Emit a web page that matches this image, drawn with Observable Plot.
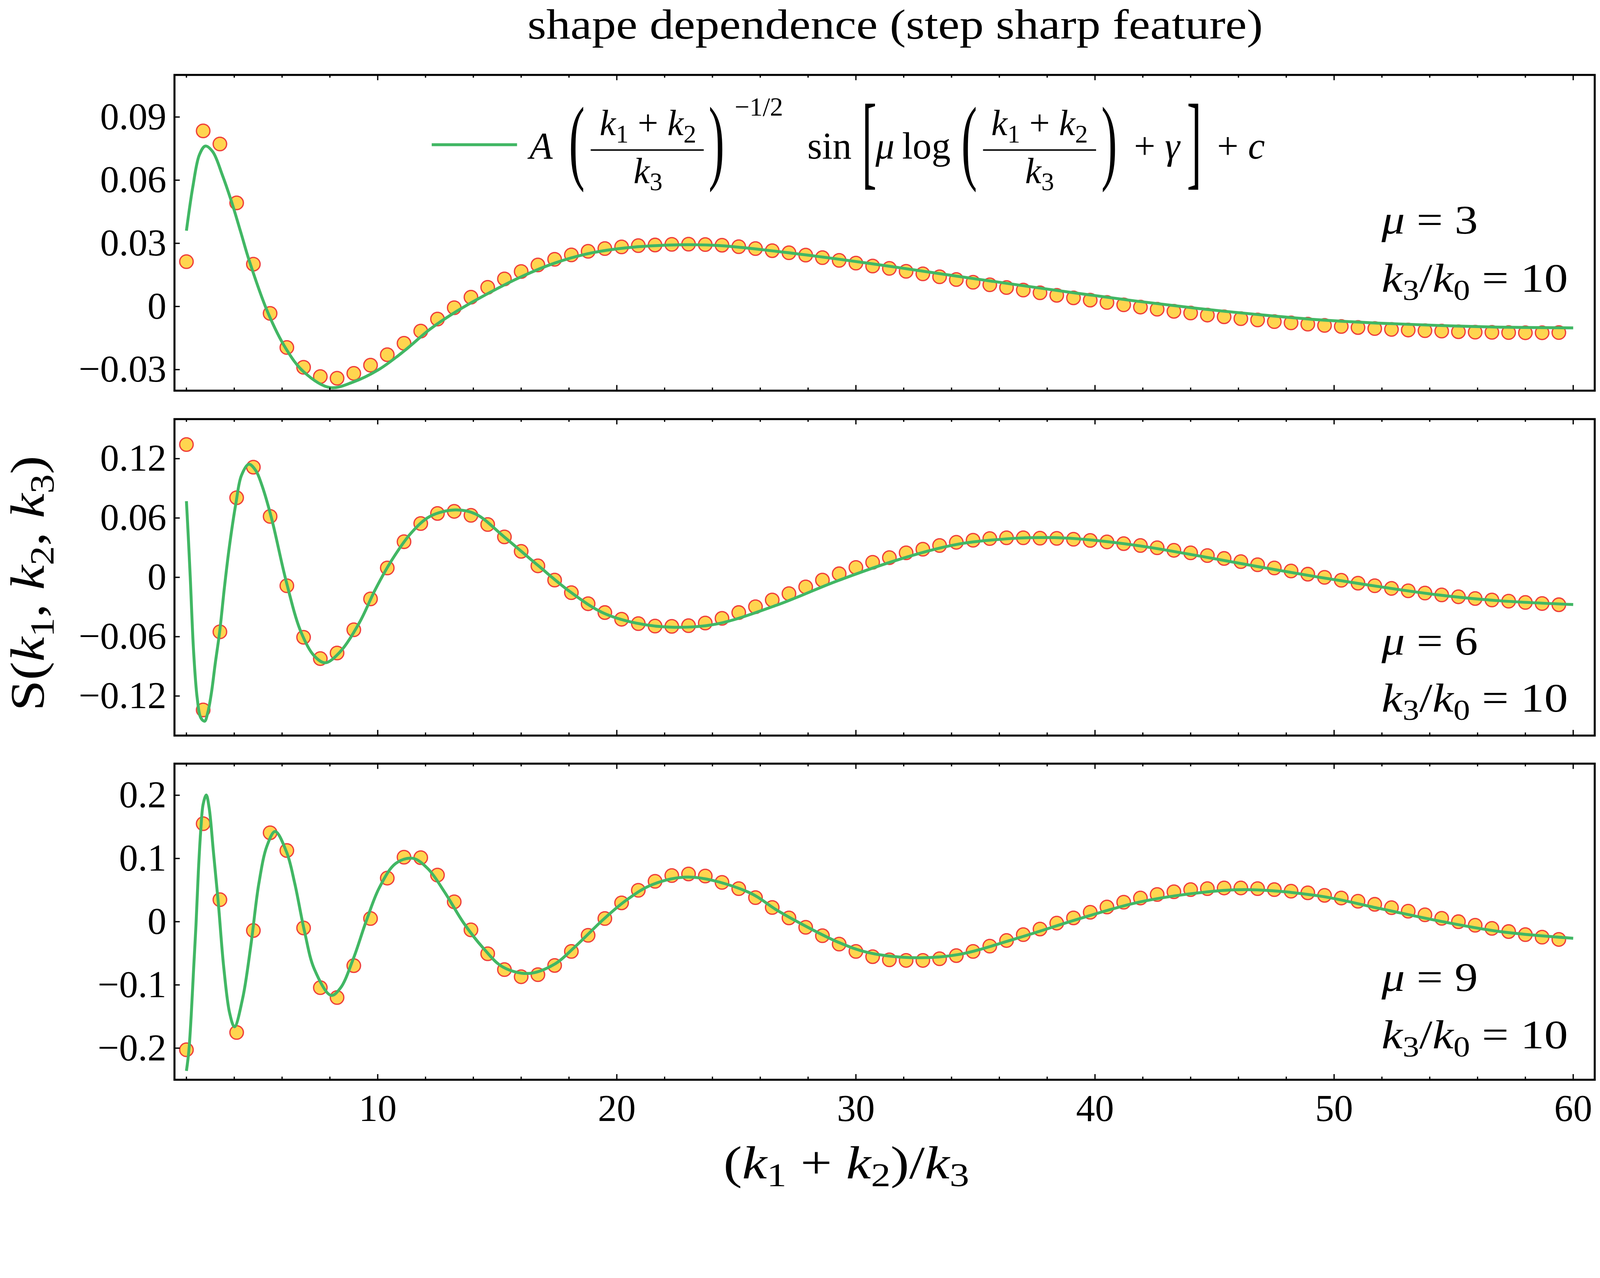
<!DOCTYPE html>
<html>
<head>
<meta charset="utf-8">
<script src="https://cdn.jsdelivr.net/npm/d3@7"></script>
<script src="https://cdn.jsdelivr.net/npm/@observablehq/plot@0.6"></script>
<style>
html, body { margin: 0; padding: 0; background: #fff; overflow: hidden; }
#fig { position: relative; width: 4388px; height: 3272px; background: #fff; overflow: visible; font-family: "Liberation Serif", serif; transform-origin: 0 0; }
#fig > svg { position: absolute; left: 0; overflow: visible; }
</style>
</head>
<body>
<div id="fig"></div>
<script>
// ---------------- data ----------------
const xPoints = [2, 2.7, 3.4, 4.1, 4.8, 5.5, 6.2, 6.9, 7.6, 8.3, 9, 9.7, 10.4, 11.1, 11.8, 12.5, 13.2, 13.9, 14.6, 15.3,
  16, 16.7, 17.4, 18.1, 18.8, 19.5, 20.2, 20.9, 21.6, 22.3, 23, 23.7, 24.4, 25.1, 25.8, 26.5, 27.2, 27.9, 28.6, 29.3,
  30, 30.7, 31.4, 32.1, 32.8, 33.5, 34.2, 34.9, 35.6, 36.3, 37, 37.7, 38.4, 39.1, 39.8, 40.5, 41.2, 41.9, 42.6, 43.3,
  44, 44.7, 45.4, 46.1, 46.8, 47.5, 48.2, 48.9, 49.6, 50.3, 51, 51.7, 52.4, 53.1, 53.8, 54.5, 55.2, 55.9, 56.6, 57.3,
  58, 58.7, 59.4];

const pointsMu3 = [0.0213, 0.0834, 0.0772, 0.0492, 0.0201, -0.0033, -0.0195, -0.0289, -0.0333, -0.0341,
  -0.0318, -0.0279, -0.0229, -0.0175, -0.0117, -0.0060, -0.0006, 0.0044, 0.0091, 0.0131,
  0.0166, 0.0197, 0.0224, 0.0245, 0.0262, 0.0275, 0.0283, 0.0289, 0.0292, 0.0295,
  0.0296, 0.0294, 0.0291, 0.0284, 0.0275, 0.0265, 0.0255, 0.0244, 0.0232, 0.0219,
  0.0206, 0.0192, 0.0181, 0.0167, 0.0155, 0.0141, 0.0128, 0.0115, 0.0103, 0.0090,
  0.0078, 0.0065, 0.0053, 0.0041, 0.0030, 0.0019, 0.0008, -0.0003, -0.0013, -0.0023,
  -0.0031, -0.0041, -0.0049, -0.0058, -0.0064, -0.0072, -0.0078, -0.0084, -0.0090, -0.0095,
  -0.0100, -0.0105, -0.0109, -0.0112, -0.0115, -0.0117, -0.0120, -0.0122, -0.0123, -0.0124,
  -0.0125, -0.0125, -0.0124];

const pointsMu6 = [0.1343, -0.1341, -0.0551, 0.0805, 0.1114, 0.0616, -0.0085, -0.0606, -0.0822, -0.0765,
  -0.0530, -0.0218, 0.0095, 0.0360, 0.0544, 0.0646, 0.0667, 0.0627, 0.0534, 0.0409,
  0.0263, 0.0116, -0.0028, -0.0155, -0.0267, -0.0356, -0.0424, -0.0468, -0.0493, -0.0496,
  -0.0489, -0.0462, -0.0415, -0.0356, -0.0297, -0.0229, -0.0165, -0.0097, -0.0028, 0.0036,
  0.0100, 0.0152, 0.0199, 0.0248, 0.0284, 0.0322, 0.0354, 0.0375, 0.0392, 0.0400,
  0.0400, 0.0396, 0.0394, 0.0385, 0.0373, 0.0358, 0.0341, 0.0322, 0.0299, 0.0273,
  0.0248, 0.0220, 0.0191, 0.0159, 0.0127, 0.0095, 0.0064, 0.0032, 0.0000, -0.0030,
  -0.0059, -0.0085, -0.0112, -0.0136, -0.0159, -0.0178, -0.0197, -0.0214, -0.0229, -0.0241,
  -0.0254, -0.0265, -0.0277];

const pointsMu9 = [-0.2026, 0.1550, 0.0348, -0.1752, -0.0139, 0.1407, 0.1126, -0.0099, -0.1043, -0.1199,
  -0.0695, 0.0050, 0.0689, 0.1020, 0.1013, 0.0738, 0.0315, -0.0129, -0.0507, -0.0758,
  -0.0871, -0.0838, -0.0692, -0.0470, -0.0215, 0.0050, 0.0298, 0.0497, 0.0639, 0.0730,
  0.0755, 0.0722, 0.0622, 0.0523, 0.0381, 0.0225, 0.0060, -0.0089, -0.0222, -0.0354,
  -0.0470, -0.0553, -0.0603, -0.0613, -0.0613, -0.0586, -0.0536, -0.0470, -0.0387, -0.0298,
  -0.0205, -0.0116, -0.0023, 0.0060, 0.0149, 0.0232, 0.0308, 0.0374, 0.0430, 0.0473,
  0.0507, 0.0523, 0.0533, 0.0533, 0.0523, 0.0507, 0.0483, 0.0457, 0.0417, 0.0374,
  0.0324, 0.0275, 0.0222, 0.0166, 0.0109, 0.0053, 0.0000, -0.0056, -0.0106, -0.0156,
  -0.0205, -0.0245, -0.0281];

// fitted curve
const fitXMu3 = [2, 2.27, 2.54, 2.79, 3.1, 3.5, 3.88, 4.28, 4.62, 5.41, 6.16, 6.9, 8.0, 8.95, 10.04, 11.1, 12.2, 13.3, 14.7, 16.0,
  17.4, 18.76, 20.1, 22.3, 24.17, 26.68, 29.2, 31.71, 34.22, 36.73, 39.25, 41.76, 44.27, 46.78, 49.3, 51.8, 54.3, 56.8, 60];
const fitYMu3 = [0.036, 0.057, 0.072, 0.0762, 0.0735, 0.0625, 0.050, 0.035, 0.022, -0.003, -0.020, -0.031, -0.0385, -0.036, -0.030, -0.0212, -0.0107, -0.0023, 0.0067, 0.0141,
  0.0206, 0.025, 0.0275, 0.0292, 0.0290, 0.0262, 0.0226, 0.0186, 0.0144, 0.0103, 0.0063, 0.0025, -0.0009, -0.0038, -0.0063, -0.0079, -0.0090, -0.0098, -0.0102];

const fitXMu6 = [2, 2.08, 2.16, 2.3, 2.45, 2.6, 2.76, 2.9, 3.05, 3.2, 3.39, 3.59, 3.79, 4.07, 4.3, 4.61, 4.9, 5.15, 5.56, 6.17,
  6.78, 7.33, 7.8, 8.41, 9.23, 9.9, 10.59, 11.4, 12.2, 13.24, 14.1, 15.3, 16.7, 18.06, 19.4, 20.8, 22.41, 24.17, 26.68, 29.2,
  31.71, 34.22, 36.73, 37.99, 39.25, 41.76, 44.27, 46.78, 49.3, 51.8, 54.3, 56.8, 60];
const fitYMu6 = [0.077, 0.04, 0.0, -0.075, -0.122, -0.142, -0.1455, -0.136, -0.116, -0.088, -0.055, -0.010, 0.030, 0.075, 0.103, 0.1144, 0.108, 0.0936, 0.0597, -0.0038,
  -0.0546, -0.079, -0.0864, -0.0758, -0.046, -0.0123, 0.0174, 0.0449, 0.0618, 0.0682, 0.064, 0.0407, 0.0121, -0.0148, -0.0356, -0.0462, -0.0505, -0.0472, -0.0282, -0.0038,
  0.0174, 0.0333, 0.0396, 0.0402, 0.0390, 0.0322, 0.0220, 0.0110, 0.0004, -0.0091, -0.0176, -0.0235, -0.0275];

const fitXMu9 = [2, 2.1, 2.2, 2.3, 2.4, 2.5, 2.6, 2.7, 2.83, 2.95, 3.13, 3.33, 3.56, 3.81, 4.01, 4.35, 4.69, 5.03, 5.37, 5.71,
  6.19, 6.53, 6.94, 7.35, 8.05, 8.44, 8.98, 9.52, 10.07, 10.75, 11.46, 12.1, 12.79, 13.6, 14.42, 15.24, 16.33, 17.41, 18.23, 19.46,
  20.4, 21.5, 23.08, 25.47, 26.73, 27.99, 29.24, 30.5, 32.52, 34.28, 36.8, 39.31, 41.83, 44.35, 46.36, 49.38, 51.9, 54.41, 56.93, 60];
const fitYMu9 = [-0.236, -0.205, -0.148, -0.075, -0.005, 0.08, 0.145, 0.186, 0.2003, 0.18, 0.11, 0.031, -0.072, -0.145, -0.1662, -0.1215, -0.0387, 0.0606, 0.120, 0.1427,
  0.110, 0.0606, -0.0156, -0.075, -0.1165, -0.105, -0.0586, 0.001, 0.054, 0.092, 0.1003, 0.0838, 0.0473, -0.0023, -0.042, -0.0718, -0.0818, -0.0669, -0.0404, 0.0043,
  0.0341, 0.0589, 0.0705, 0.0473, 0.0175, -0.0089, -0.0321, -0.0487, -0.0570, -0.0520, -0.0255, 0.0043, 0.0308, 0.0457, 0.0507, 0.0407, 0.0209, 0.0010, -0.0156, -0.0262];

const xMajorTicks = [10, 20, 30, 40, 50, 60];
const xMinorTicks = [2, 4, 6, 8, 12, 14, 16, 18, 22, 24, 26, 28, 32, 34, 36, 38, 42, 44, 46, 48, 52, 54, 56, 58];
const xTickLabels = ["10", "20", "30", "40", "50", "60"];

const yTicksMu3 = [-0.03, 0, 0.03, 0.06, 0.09];
const yTickLabelsMu3 = ["\u22120.03", "0", "0.03", "0.06", "0.09"];
const yTicksMu6 = [-0.12, -0.06, 0, 0.06, 0.12];
const yTickLabelsMu6 = ["\u22120.12", "\u22120.06", "0", "0.06", "0.12"];
const yTicksMu9 = [-0.2, -0.1, 0, 0.1, 0.2];
const yTickLabelsMu9 = ["\u22120.2", "\u22120.1", "0", "0.1", "0.2"];

const muValues = ["3", "6", "9"];
const ratioValue = "10";

// ---------------- styling ----------------
const FONT = "Liberation Serif";
const DOT_FILL = "#ffd54f";
const DOT_STROKE = "#ef3e3a";
const FIT_COLOR = "#41b764";
const W = 4388, H = 3272;
const ML = 478, MR = 15;
const fig = document.getElementById("fig");

// fit the figure to the viewport, whatever its size
function fitToViewport() {
  const s = Math.min(window.innerWidth / W, window.innerHeight / H);
  fig.style.transform = `scale(${s})`;
}
fitToViewport();
window.addEventListener("resize", fitToViewport);

function panel({pts, fitX, fitY, yDomain, yTicks, yLabels, frameTop, frameH, showX}) {
  const mt = 12, mb = showX ? 150 : 12;
  const frameW = W - ML - MR;
  const points = xPoints.map((x, i) => ({x, y: pts[i]}));
  const fit = fitX.map((x, i) => ({x, y: fitY[i]}));
  const fmt = d => yLabels[yTicks.indexOf(d)];
  const tk = {stroke: "black", strokeWidth: 3.5};
  const marks = [
    Plot.dot(points, {x: "x", y: "y", r: 18.5, fill: DOT_FILL, stroke: DOT_STROKE, strokeWidth: 3.5}),
    Plot.line(fit, {x: "x", y: "y", stroke: FIT_COLOR, strokeWidth: 8, curve: "catmull-rom", strokeLinecap: "butt"}),
    // inward ticks: bottom, top, left
    Plot.tickX(xMajorTicks, {...tk, x: d => d, insetTop: frameH - 15}),
    Plot.tickX(xMinorTicks, {...tk, x: d => d, insetTop: frameH - 8}),
    Plot.tickX(xMajorTicks, {...tk, x: d => d, insetBottom: frameH - 15}),
    Plot.tickX(xMinorTicks, {...tk, x: d => d, insetBottom: frameH - 8}),
    Plot.tickY(yTicks, {...tk, y: d => d, insetRight: frameW - 15}),
    // tick labels
    Plot.axisY(yTicks, {anchor: "left", tickSize: 0, tickPadding: 22, tickFormat: fmt, fontSize: 104, label: null})
  ];
  if (showX) {
    marks.push(Plot.axisX(xMajorTicks, {anchor: "bottom", tickSize: 0, tickPadding: 39,
      tickFormat: d => xTickLabels[xMajorTicks.indexOf(d)], fontSize: 104, label: null}));
  }
  marks.push(Plot.frame({stroke: "black", strokeWidth: 5.5}));
  const svg = Plot.plot({
    width: W, height: frameH + mt + mb,
    marginLeft: ML, marginRight: MR, marginTop: mt, marginBottom: mb,
    x: {domain: [1.5, 60.9], axis: null},
    y: {domain: yDomain, axis: null},
    style: {fontFamily: FONT, fontSize: "104px", background: "transparent", overflow: "visible", color: "black", maxWidth: "none"},
    marks
  });
  svg.style.top = (frameTop - mt) + "px";
  svg.style.left = "0px";
  fig.appendChild(svg);
}

panel({pts: pointsMu3, fitX: fitXMu3, fitY: fitYMu3, yDomain: [-0.04, 0.11], yTicks: yTicksMu3, yLabels: yTickLabelsMu3, frameTop: 205, frameH: 866, showX: false});
panel({pts: pointsMu6, fitX: fitXMu6, fitY: fitYMu6, yDomain: [-0.16, 0.16], yTicks: yTicksMu6, yLabels: yTickLabelsMu6, frameTop: 1149, frameH: 868, showX: false});
panel({pts: pointsMu9, fitX: fitXMu9, fitY: fitYMu9, yDomain: [-0.25, 0.25], yTicks: yTicksMu9, yLabels: yTickLabelsMu9, frameTop: 2094, frameH: 867, showX: true});

// ---------------- text overlay ----------------
const ov = d3.select(fig).append("svg")
  .attr("width", W).attr("height", H)
  .style("top", "0px").style("left", "0px").style("pointer-events", "none").style("overflow", "visible")
  .attr("font-family", FONT).attr("fill", "black");

// parts: [text, style] where style contains i (italic), sub, sup
function mathText(g, x, y, parts, {size = 104, anchor = "start", textLength = null, transform = null, subShift = 0.2} = {}) {
  const t = g.append("text").attr("x", x).attr("y", y).attr("font-size", size).attr("text-anchor", anchor);
  if (transform) t.attr("transform", transform);
  if (textLength) t.attr("textLength", textLength).attr("lengthAdjust", "spacingAndGlyphs");
  let shift = 0;
  parts.forEach(([s, st = ""]) => {
    const ts = t.append("tspan").text(s);
    if (st.includes("i")) ts.attr("font-style", "italic");
    let target = 0, fs = size;
    if (st.includes("sub")) { target = subShift * size; fs = 0.7 * size; }
    if (st.includes("sup")) { target = -0.42 * size; fs = 0.7 * size; }
    ts.attr("font-size", fs);
    if (target !== shift) { ts.attr("dy", target - shift); shift = target; }
  });
  return t;
}
const NB = "\u00A0";

// title
ov.append("text").attr("x", 2455).attr("y", 106).attr("text-anchor", "middle").attr("font-size", 116)
  .attr("textLength", 2017).attr("lengthAdjust", "spacingAndGlyphs")
  .text("shape dependence (step sharp feature)");

// y label
mathText(ov, 0, 0, [["S"], ["("], ["k", "i"], ["1", "sub"], [","], [NB + "k", "i"], ["2", "sub"], [","], [NB + "k", "i"], ["3", "sub"], [")"]],
  {size: 132, anchor: "middle", textLength: 700, transform: "translate(120,1600) rotate(-90)"});

// x label
mathText(ov, 2321, 3232, [["("], ["k", "i"], ["1", "sub"], [NB + "+" + NB], ["k", "i"], ["2", "sub"], [")/"], ["k", "i"], ["3", "sub"]],
  {size: 128, anchor: "middle", textLength: 674, subShift: 0.17});

// panel annotations
const annot = [[641, 800], [1795, 1952], [2718, 2875]];
annot.forEach(([yMu, yK], i) => {
  mathText(ov, 3789, yMu, [["\u03BC", "i"], [NB + "=" + NB + muValues[i]]], {size: 112, textLength: 264});
  mathText(ov, 3789, yK, [["k", "i"], ["3", "sub"], ["/"], ["k", "i"], ["0", "sub"], [NB + "=" + NB + ratioValue]], {size: 112, textLength: 511});
});

// legend
const lg = ov.append("g");
lg.append("line").attr("x1", 1184).attr("x2", 1418).attr("y1", 397).attr("y2", 397)
  .attr("stroke", FIT_COLOR).attr("stroke-width", 8);
mathText(lg, 1452, 435, [["A", "i"]], {size: 104});
function bigDelim(ch, cx, scaleX, scaleY, off) {
  lg.append("text").attr("text-anchor", "middle").attr("font-size", 100).attr("y", off)
    .attr("transform", `translate(${cx},411) scale(${scaleX},${scaleY})`).text(ch);
}
function frac(cx, x1, x2, num, den) {
  mathText(lg, cx, 371, num, {size: 100, anchor: "middle"});
  lg.append("line").attr("x1", x1).attr("x2", x2).attr("y1", 411.5).attr("y2", 411.5).attr("stroke", "black").attr("stroke-width", 4);
  mathText(lg, cx, 502, den, {size: 100, anchor: "middle"});
}
const numParts = [["k", "i"], ["1", "sub"], [NB + "+" + NB], ["k", "i"], ["2", "sub"]];
const denParts = [["k", "i"], ["3", "sub"]];
bigDelim("(", 1582, 1.3, 2.6, 23.5);
frac(1777, 1620, 1930, numParts, denParts);
bigDelim(")", 1965, 1.3, 2.6, 23.5);
mathText(lg, 2015, 317, [["\u22121/2"]], {size: 72});
mathText(lg, 2214, 435, [["sin"]], {size: 104});
bigDelim("[", 2384, 1.2, 2.85, 25);
mathText(lg, 2401, 435, [["\u03BC", "i"], ["\u2009log"]], {size: 104});
bigDelim("(", 2658, 1.3, 2.6, 23.5);
frac(2851, 2696, 3006, numParts, denParts);
bigDelim(")", 3042, 1.3, 2.6, 23.5);
mathText(lg, 3110, 435, [["+" + NB], ["\u03B3", "i"]], {size: 104});
bigDelim("]", 3275, 1.2, 2.85, 25);
mathText(lg, 3338, 435, [["+" + NB], ["c", "i"]], {size: 104});
</script>
</body>
</html>
